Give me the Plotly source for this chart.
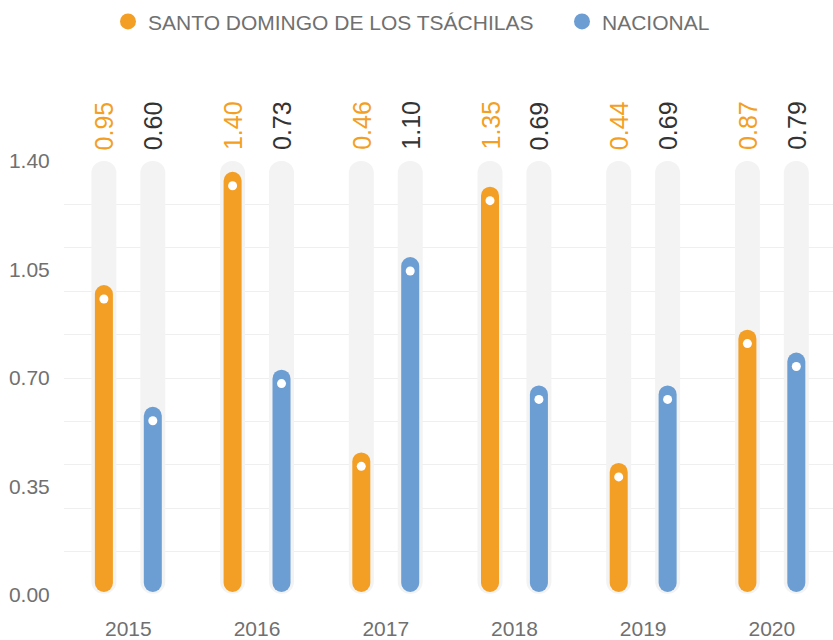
import plotly.graph_objects as go

# datos
years = [2015, 2016, 2017, 2018, 2019, 2020]
santo_vals = [1.00, 1.365, 0.46, 1.317, 0.426, 0.856]
nacional_vals = [0.607, 0.727, 1.09, 0.676, 0.676, 0.782]
santo_lbl = ['0.95', '1.40', '0.46', '1.35', '0.44', '0.87']
nacional_lbl = ['0.60', '0.73', '1.10', '0.69', '0.69', '0.79']
track_max = 1.40
y_ticks = [0.0, 0.35, 0.70, 1.05, 1.40]
y_grid = [0.0, 0.14, 0.28, 0.42, 0.56, 0.70, 0.84, 0.98, 1.12, 1.26, 1.40]

ORANGE = '#F39F25'
BLUE = '#6C9ED4'
TRACK = '#F3F3F3'
FONT = 'Arial, Liberation Sans, sans-serif'

SEP = 0.19      # desplazamiento de cada serie respecto al centro del año
BAR_W = 0.14
TRACK_W = 0.194
TRACK_BASE = 0.004
BAR_BASE = 0.01
DOT = 0.045     # el punto blanco queda un poco por debajo del tope

fig = go.Figure()


def add_column(vals, side, color, width, base):
    # con base explicita plotly redondea los dos extremos
    fig.add_trace(go.Bar(
        x=[y + side * SEP for y in years], y=[v - base for v in vals],
        base=[base] * len(vals), width=width,
        marker=dict(color=color, cornerradius='50%', line=dict(width=0)),
        showlegend=False, hoverinfo='skip',
    ))


add_column([track_max] * len(years), -1, TRACK, TRACK_W, TRACK_BASE)
add_column([track_max] * len(years), 1, TRACK, TRACK_W, TRACK_BASE)
add_column(santo_vals, -1, ORANGE, BAR_W, BAR_BASE)
add_column(nacional_vals, 1, BLUE, BAR_W, BAR_BASE)

# puntos blancos
for vals, side in [(santo_vals, -1), (nacional_vals, 1)]:
    fig.add_trace(go.Scatter(
        x=[y + side * SEP for y in years], y=[v - DOT for v in vals],
        mode='markers', marker=dict(color='white', size=9),
        showlegend=False, hoverinfo='skip',
    ))

# etiquetas verticales encima de las pistas
for labels, side, color in [(santo_lbl, -1, ORANGE), (nacional_lbl, 1, '#333333')]:
    for yr, txt in zip(years, labels):
        fig.add_annotation(
            x=yr + side * SEP, y=track_max, text=txt, textangle=-90,
            xanchor='center', yanchor='bottom', yshift=9, showarrow=False,
            font=dict(size=25, color=color, family=FONT),
        )

# leyenda (una por serie para poder situarlas)
for name, color, lg in [('SANTO DOMINGO DE LOS TSÁCHILAS', ORANGE, 'legend'),
                        ('NACIONAL', BLUE, 'legend2')]:
    fig.add_trace(go.Scatter(
        x=[None], y=[None], mode='markers', name=name, yaxis='y2', legend=lg,
        marker=dict(color=color, size=16, symbol='circle'),
    ))

legend_style = dict(orientation='h', xref='container', yref='container', xanchor='left',
                    y=0.966, yanchor='middle', font=dict(size=21, color='#707070'),
                    bgcolor='rgba(0,0,0,0)')

fig.update_layout(
    width=833, height=640,
    barmode='overlay',
    plot_bgcolor='white', paper_bgcolor='white',
    font=dict(family=FONT, size=21, color='#707070'),
    margin=dict(l=64, r=0, t=161, b=43),
    legend=dict(x=108 / 833, **legend_style),
    legend2=dict(x=562 / 833, **legend_style),
    xaxis=dict(range=[2014.5, 2020.475], tickvals=years, ticktext=[str(y) for y in years],
               showgrid=False, zeroline=False, showline=False,
               ticks='outside', ticklen=15, tickcolor='rgba(0,0,0,0)'),
    yaxis=dict(range=[0, 1.4], tickvals=y_grid, showticklabels=False,
               showgrid=True, gridcolor='#EFEFEF', gridwidth=1, zeroline=False),
    yaxis2=dict(range=[0, 1.4], overlaying='y', side='left', tickvals=y_ticks,
                tickformat='.2f', showgrid=False, zeroline=False,
                ticks='outside', ticklen=9, tickcolor='rgba(0,0,0,0)'),
)

fig.write_html('out.html', config={'displayModeBar': False},
               post_script="document.body.style.margin='0';")
